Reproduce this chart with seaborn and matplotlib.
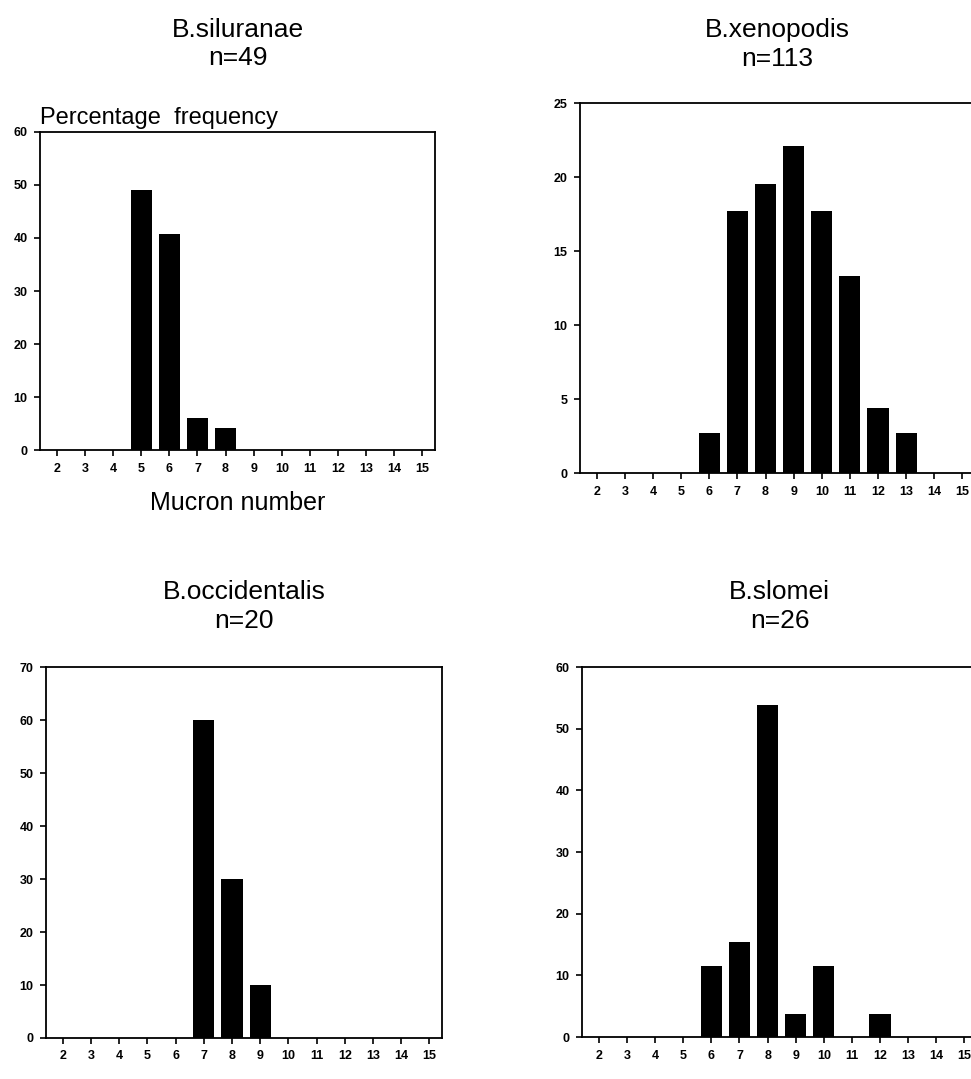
import numpy as np
import pandas as pd
import matplotlib
matplotlib.use("Agg")
import matplotlib.pyplot as plt
import seaborn as sns

# Mucron number classes and percentage frequencies per species
mucron = list(range(2, 16))
siluranae = [0, 0, 0, 49.0, 40.8, 6.1, 4.1, 0, 0, 0, 0, 0, 0, 0]
xenopodis = [0, 0, 0, 0, 2.7, 17.7, 19.5, 22.1, 17.7, 13.3, 4.4, 2.7, 0, 0]
occidentalis = [0, 0, 0, 0, 0, 60.0, 30.0, 10.0, 0, 0, 0, 0, 0, 0]
slomei = [0, 0, 0, 0, 11.5, 15.4, 53.8, 3.8, 11.5, 0, 3.8, 0, 0, 0]

titles = ["B.siluranae\nn=49", "B.xenopodis\nn=113", "B.occidentalis\nn=20", "B.slomei\nn=26"]
series = [siluranae, xenopodis, occidentalis, slomei]
ymax = [60, 25, 70, 60]
ystep = [10, 5, 10, 10]

sns.set_style("white")
plt.rcParams["font.family"] = ["Liberation Sans", "DejaVu Sans"]
plt.rcParams["text.color"] = "black"

fig = plt.figure(figsize=(9.71, 10.79), dpi=100)

# axes boxes (left, bottom, width, height) in figure fraction
boxes = [
    [0.0412, 0.5829, 0.4068, 0.2948],
    [0.5973, 0.5616, 0.4068, 0.3429],
    [0.0474, 0.0380, 0.4078, 0.3438],
    [0.5994, 0.0389, 0.4068, 0.3429],
]
title_pads = [48, 27, 28, 28]

for i in range(4):
    ax = fig.add_axes(boxes[i])
    df = pd.DataFrame({"mucron": mucron, "pct": series[i]})
    sns.barplot(data=df, x="mucron", y="pct", native_scale=True, color="black",
                width=0.75, linewidth=0, saturation=1, ax=ax)
    ax.set_xlim(1.4, 15.45)
    ax.set_ylim(0, ymax[i])
    ax.set_xticks(mucron)
    ax.set_yticks(np.arange(0, ymax[i] + 1, ystep[i]))
    ax.tick_params(bottom=True, left=True, direction="out", length=4, width=1.2,
                   colors="black", labelsize=9, pad=5)
    for lab in ax.get_xticklabels() + ax.get_yticklabels():
        lab.set_fontweight("bold")
    for s in ax.spines.values():
        s.set_color("black")
        s.set_linewidth(1.3)
    ax.set_ylabel("")
    ax.set_xlabel("")
    ax.set_title(titles[i], fontsize=19, pad=title_pads[i], linespacing=1.25,
                 color="black")

    if i == 0:
        ax.text(0, 1.025, "Percentage  frequency", transform=ax.transAxes,
                fontsize=17, ha="left", va="baseline", color="black")
        ax.set_xlabel("Mucron number", fontsize=18, labelpad=12, color="black")

fig.savefig("out.png", dpi=100)
